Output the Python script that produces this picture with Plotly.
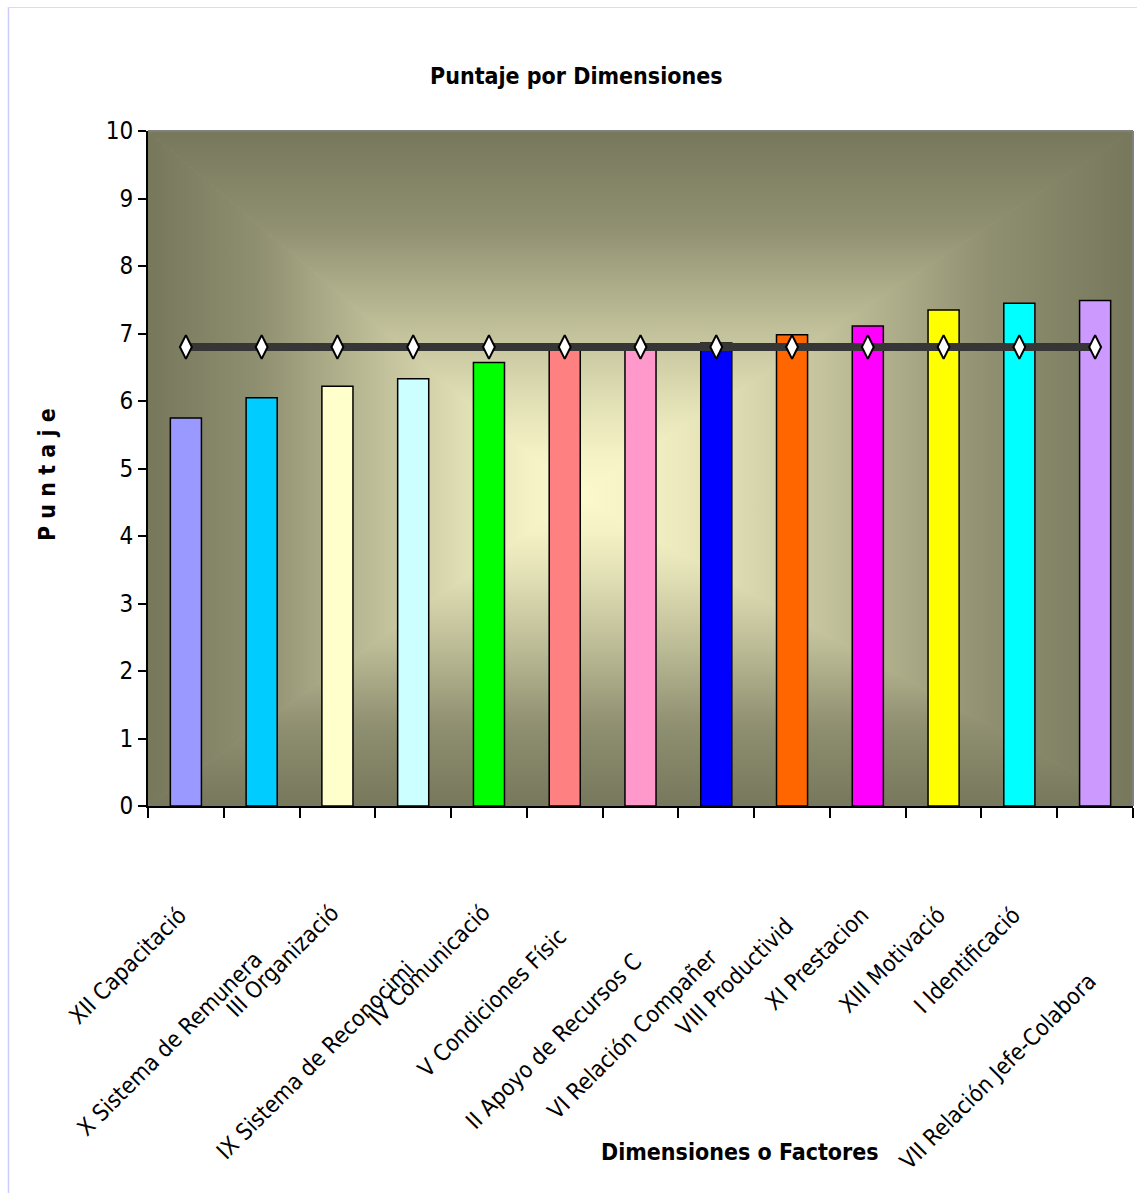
import base64
import plotly.graph_objects as go

# ---------------- data ----------------
categorias = ["XII Capacitació", "X Sistema de Remunera", "III Organizació",
              "IX Sistema de Reconocimi", "IV Comunicació", "V Condiciones Físic",
              "II Apoyo de Recursos C", "VI Relación Compañer", "VIII Productivid",
              "XI Prestacion", "XIII Motivació", "I Identificació",
              "VII Relación Jefe-Colabora"]
puntaje = [5.75, 6.05, 6.22, 6.33, 6.57, 6.80, 6.81, 6.86, 6.98, 7.11, 7.35, 7.45, 7.49]
promedio = [6.8, 6.8, 6.8, 6.8, 6.8, 6.8, 6.8, 6.8, 6.8, 6.8, 6.8, 6.8, 6.8]
ticks_y = [0, 1, 2, 3, 4, 5, 6, 7, 8, 9, 10]

titulo = "Puntaje por Dimensiones"
titulo_x = "Dimensiones o Factores"
titulo_y = "P u n t a j e"

# ---------------- styles / layout ----------------
colores = ["#9999ff", "#00ccff", "#ffffcc", "#ccffff", "#00ff00", "#ff8080",
           "#ff99cc", "#0000ff", "#ff6600", "#ff00ff", "#ffff00", "#00ffff", "#cc99ff"]

FIG_W, FIG_H = 1137, 1193
PL, PR, PT, PB = 148, 1133, 131, 806          # plot area in pixels
PW, PH = PR - PL, PB - PT
FONT = "Comic Sans MS, Liberation Sans Narrow, DejaVu Sans Condensed, DejaVu Sans, sans-serif"

# vertical pixel where each rotated category label ends (Excel staggering)
label_end_px = [906, 950, 904, 960, 903, 928, 952, 948, 918, 906, 906, 906, 972]


def py2paper(py):
    return (PB - py) / PH


def px2paper(px):
    return (px - PL) / PW


# "from centre" rectangular gradient background (Excel style)
cx, cy = 430, 365
stops = [(0.0, "#77775c"), (0.25, "#8e8e70"), (0.5, "#b9b994"),
         (0.72, "#dedcb2"), (0.88, "#f4f2c4"), (1.0, "#fcfacd")]
stop_xml = "".join(f'<stop offset="{o}" stop-color="{c}"/>' for o, c in stops)


def grad(gid, x1, y1, x2, y2):
    return (f'<linearGradient id="{gid}" gradientUnits="userSpaceOnUse" '
            f'x1="{x1}" y1="{y1}" x2="{x2}" y2="{y2}">{stop_xml}</linearGradient>')


svg = (f'<svg xmlns="http://www.w3.org/2000/svg" width="{PW}" height="{PH}" '
       f'viewBox="0 0 {PW} {PH}" preserveAspectRatio="none"><defs>'
       + grad("t", 0, 0, 0, cy) + grad("b", 0, PH, 0, cy)
       + grad("l", 0, 0, cx, 0) + grad("r", PW, 0, cx, 0) +
       '</defs>'
       f'<polygon points="0,0 {PW},0 {cx},{cy}" fill="url(#t)" stroke="url(#t)" stroke-width="1"/>'
       f'<polygon points="0,{PH} {PW},{PH} {cx},{cy}" fill="url(#b)" stroke="url(#b)" stroke-width="1"/>'
       f'<polygon points="0,0 0,{PH} {cx},{cy}" fill="url(#l)" stroke="url(#l)" stroke-width="1"/>'
       f'<polygon points="{PW},0 {PW},{PH} {cx},{cy}" fill="url(#r)" stroke="url(#r)" stroke-width="1"/>'
       '</svg>')
svg_uri = "data:image/svg+xml;base64," + base64.b64encode(svg.encode("utf-8")).decode("ascii")

fig = go.Figure()

fig.add_trace(go.Bar(
    x=categorias, y=puntaje,
    marker=dict(color=colores, line=dict(color="#000000", width=1.5)),
    width=0.41, showlegend=False, hoverinfo="x+y",
))

fig.add_trace(go.Scatter(
    x=categorias, y=promedio, mode="lines+markers",
    line=dict(color="#363636", width=8),
    marker=dict(symbol="diamond-tall", size=17, color="#ffffff",
                line=dict(color="#000000", width=2)),
    showlegend=False,
))

annotations = []
for cat, ypx in zip(categorias, label_end_px):
    annotations.append(dict(
        x=cat, xref="x", y=py2paper(ypx - 7), yref="paper",
        text=cat, showarrow=False, textangle=-45,
        xanchor="right", yanchor="top", xshift=9,
        font=dict(family=FONT, size=23, color="#000000"),
    ))

annotations.append(dict(
    x=px2paper(576), y=py2paper(76), xref="paper", yref="paper",
    text=titulo, showarrow=False, xanchor="center", yanchor="middle",
    font=dict(family=FONT, size=23, color="#000000", weight="bold"),
))
annotations.append(dict(
    x=px2paper(740), y=py2paper(1152), xref="paper", yref="paper",
    text=titulo_x, showarrow=False, xanchor="center", yanchor="middle",
    font=dict(family=FONT, size=23, color="#000000", weight="bold"),
))
annotations.append(dict(
    x=px2paper(47), y=py2paper(475), xref="paper", yref="paper",
    text=titulo_y, showarrow=False, xanchor="center", yanchor="middle",
    textangle=-90,
    font=dict(family=FONT, size=23, color="#000000", weight="bold"),
))

shapes = [
    # plot-area frame (top & right, grey)
    dict(type="line", xref="paper", yref="paper", x0=0, x1=1, y0=1, y1=1,
         line=dict(color="#808080", width=2)),
    dict(type="line", xref="paper", yref="paper", x0=1, x1=1, y0=0, y1=1,
         line=dict(color="#808080", width=2)),
    # outer chart border (lilac)
    dict(type="line", xref="paper", yref="paper",
         x0=px2paper(8.5), x1=px2paper(8.5), y0=py2paper(7), y1=py2paper(1200),
         line=dict(color="#ccccff", width=1.5)),
    dict(type="line", xref="paper", yref="paper",
         x0=px2paper(8.5), x1=px2paper(1150), y0=py2paper(7.5), y1=py2paper(7.5),
         line=dict(color="#dcdcf0", width=1)),
]

fig.update_layout(
    width=FIG_W, height=FIG_H,
    margin=dict(l=PL, r=FIG_W - PR, t=PT, b=FIG_H - PB, pad=0),
    paper_bgcolor="#ffffff", plot_bgcolor="rgba(0,0,0,0)",
    font=dict(family=FONT, color="#000000"),
    images=[dict(source=svg_uri, xref="paper", yref="paper", x=0, y=1,
                 sizex=1, sizey=1, sizing="stretch", layer="below",
                 xanchor="left", yanchor="top")],
    annotations=annotations, shapes=shapes,
    bargap=0.59,
    xaxis=dict(type="category", range=[-0.5, len(categorias) - 0.5],
               showticklabels=False, showgrid=False, zeroline=False,
               showline=True, linecolor="#000000", linewidth=2,
               ticks="outside", tickson="boundaries", ticklen=10,
               tickcolor="#000000", tickwidth=1.5),
    yaxis=dict(range=[0, 10], tickvals=ticks_y, showgrid=False, zeroline=False,
               showline=True, linecolor="#000000", linewidth=2,
               ticks="outside", ticklen=8, tickcolor="#000000", tickwidth=1.5,
               tickfont=dict(family=FONT, size=24, color="#000000")),
)

fig.write_html("out.html", config={"displayModeBar": False},
               post_script="document.body.style.margin='0';document.body.style.overflow='hidden';")
